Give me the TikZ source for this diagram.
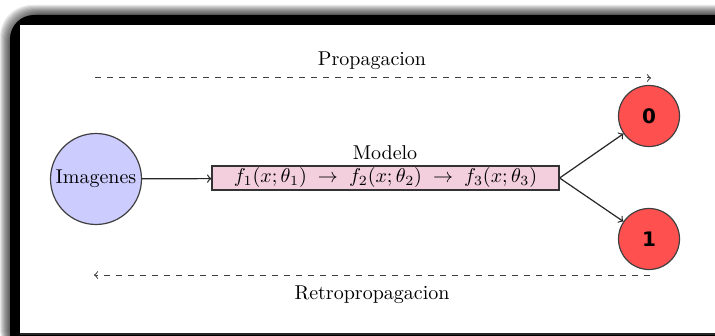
\documentclass[tikz,border=0pt]{standalone}
\usepackage{fontspec}
\newfontfamily\digitfont{DejaVu Sans}
\definecolor{inblue}{RGB}{204,204,255}
\definecolor{outred}{RGB}{255,80,80}
\definecolor{modpink}{RGB}{243,206,220}
\begin{document}
\begin{tikzpicture}[x=0.5pt,y=-0.5pt,
  every node/.style={inner sep=0pt},
  circ/.style={circle,draw=black!75,line width=0.6pt},
  outnode/.style={circ,fill=outred,minimum size=30.5pt,font=\digitfont\bfseries},
  modbox/.style={draw=black!80,fill=modpink,line width=0.6pt,minimum width=173.5pt,minimum height=12pt},
  conn/.style={->,draw=black!85,line width=0.6pt},
  dashconn/.style={->,dashed,draw=black!75,line width=0.5pt}]
\useasboundingbox (0,0) rectangle (715,336);
% frame shadow
\foreach \i in {1,...,10}{
  \fill[black,opacity=0.09,rounded corners=16] (10-\i,15-\i) rectangle (760,360);
}
\fill[black,rounded corners=12] (10,15) rectangle (760,360);
\fill[white] (20,25) rectangle (715,333);
\draw[black!85,line width=1pt] (20,334) -- (715,334);
% nodes
\node[circ,fill=inblue,minimum size=45.5pt] (img) at (96,179) {Imagenes};
\node[modbox] (mod) at (385.5,178) {$f_1(x;\theta_1)\;\rightarrow\;f_2(x;\theta_2)\;\rightarrow\;f_3(x;\theta_3)$};
\node[anchor=base] (modlbl) at (385,160) {Modelo};
\node[outnode] (o0) at (649,116) {0};
\node[outnode] (o1) at (649,239) {1};
% connectors
\draw[conn] (img) -- (mod);
\draw[conn] (mod.east) -- (o0);
\draw[conn] (mod.east) -- (o1);
% propagation arrows
\coordinate (pa) at (95,78);
\coordinate (pb) at (651,78);
\coordinate (ra) at (650,275);
\coordinate (rb) at (94,275);
\draw[dashconn] (pa) -- (pb);
\draw[dashconn] (ra) -- (rb);
\node[anchor=base] (plbl) at (372,66) {Propagacion};
\node[anchor=base] (rlbl) at (372,299) {Retropropagacion};
\end{tikzpicture}
\end{document}
